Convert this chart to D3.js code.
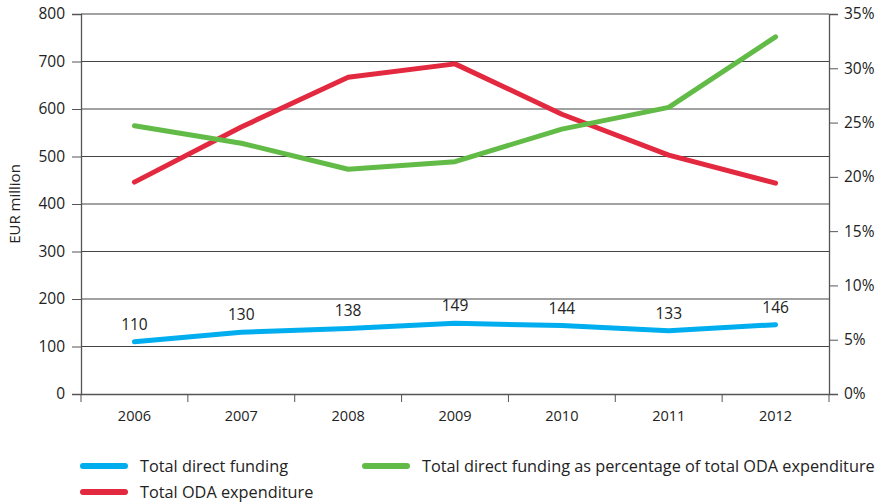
<!DOCTYPE html>
<html>
<head>
<meta charset="utf-8">
<script src="https://cdn.jsdelivr.net/npm/d3@7"></script>
<style>
  body { margin: 0; background: #fff; }
  text { font-family: "Open Sans", "Noto Sans", sans-serif; fill: #222; }
  .axis path, .axis line { stroke: #555; }
</style>
</head>
<body>
<svg width="881" height="504"></svg>
<script>
var years = ["2006", "2007", "2008", "2009", "2010", "2011", "2012"],
    directFunding = [110, 130, 138, 149, 144, 133, 146],
    odaExpenditure = [446, 562, 667, 695, 589, 503, 444],
    sharePct = [24.7, 23.1, 20.7, 21.4, 24.4, 26.4, 32.9],
    leftTicks = [0, 100, 200, 300, 400, 500, 600, 700, 800],
    rightTicks = [0, 5, 10, 15, 20, 25, 30, 35];

var svg = d3.select("svg"),
    margin = {top: 14, right: 52, bottom: 110, left: 81},
    width = +svg.attr("width") - margin.left - margin.right,
    height = +svg.attr("height") - margin.top - margin.bottom,
    g = svg.append("g").attr("transform", "translate(" + margin.left + "," + margin.top + ")");

var x = d3.scaleBand().domain(years).range([0, width]);
var y = d3.scaleLinear().domain([0, 800]).range([height, 0]);
var y2 = d3.scaleLinear().domain([0, 35]).range([height, 0]);
var cx = function(d, i) { return x(years[i]) + x.bandwidth() / 2; };

// gridlines
g.append("g")
  .selectAll("line")
  .data(leftTicks.slice(1))
  .enter().append("line")
    .attr("x1", 0)
    .attr("x2", width)
    .attr("y1", function(d) { return y(d); })
    .attr("y2", function(d) { return y(d); })
    .style("stroke", "#444")
    .style("stroke-width", 1.2);

var yAxis = g.append("g")
    .attr("class", "axis")
    .call(d3.axisLeft(y).tickValues(leftTicks).tickSize(9).tickPadding(7));
yAxis.selectAll("text").style("font-size", "15.5px");

var y2Axis = g.append("g")
    .attr("class", "axis")
    .attr("transform", "translate(" + width + ",0)")
    .call(d3.axisRight(y2).tickValues(rightTicks).tickSize(9).tickPadding(6)
      .tickFormat(function(d) { return d + "%"; }));
y2Axis.selectAll("text").style("font-size", "15.5px");

var xAxis = g.append("g")
    .attr("class", "axis")
    .attr("transform", "translate(0," + height + ")")
    .call(d3.axisBottom(x).tickSize(0).tickPadding(17));
xAxis.selectAll("text").style("font-size", "14.5px");
// tick marks at band boundaries
xAxis.selectAll(".bound")
  .data(years.concat(["end"]))
  .enter().append("line")
    .attr("x1", function(d, i) { return i * x.step(); })
    .attr("x2", function(d, i) { return i * x.step(); })
    .attr("y1", 0)
    .attr("y2", 8);
svg.selectAll(".axis path").style("stroke-width", 1.3);

svg.append("text")
    .attr("transform", "translate(20," + (margin.top + y(400)) + ") rotate(-90)")
    .attr("text-anchor", "middle")
    .style("font-size", "15px")
    .text("EUR million");

var line = d3.line().x(cx).y(function(d) { return y(d); });
var line2 = d3.line().x(cx).y(function(d) { return y2(d); });

g.append("path").datum(odaExpenditure)
    .attr("d", line)
    .style("fill", "none").style("stroke", "#e3293f")
    .style("stroke-width", 5).style("stroke-linecap", "round").style("stroke-linejoin", "round");
g.append("path").datum(sharePct)
    .attr("d", line2)
    .style("fill", "none").style("stroke", "#62bb46")
    .style("stroke-width", 5).style("stroke-linecap", "round").style("stroke-linejoin", "round");
g.append("path").datum(directFunding)
    .attr("d", line)
    .style("fill", "none").style("stroke", "#00aeef")
    .style("stroke-width", 5).style("stroke-linecap", "round").style("stroke-linejoin", "round");

g.selectAll(".dlabel")
  .data(directFunding)
  .enter().append("text")
    .attr("x", cx)
    .attr("y", function(d) { return y(d) - 12; })
    .attr("text-anchor", "middle")
    .style("font-size", "15.5px")
    .text(function(d) { return d; });

// legend
var legendItems = [
  {name: "Total direct funding", color: "#00aeef", x: 83, y: 466},
  {name: "Total direct funding as percentage of total ODA expenditure", color: "#62bb46", x: 365, y: 466},
  {name: "Total ODA expenditure", color: "#e3293f", x: 83, y: 492}
];
var lg = svg.append("g").selectAll("g").data(legendItems).enter().append("g")
    .attr("transform", function(d) { return "translate(" + d.x + "," + d.y + ")"; });
lg.append("line")
    .attr("x1", 0).attr("x2", 42)
    .style("stroke", function(d) { return d.color; })
    .style("stroke-width", 6).style("stroke-linecap", "round");
lg.append("text")
    .attr("x", 57).attr("dy", "0.35em")
    .style("font-size", "16.3px")
    .text(function(d) { return d.name; });
</script>
</body>
</html>
